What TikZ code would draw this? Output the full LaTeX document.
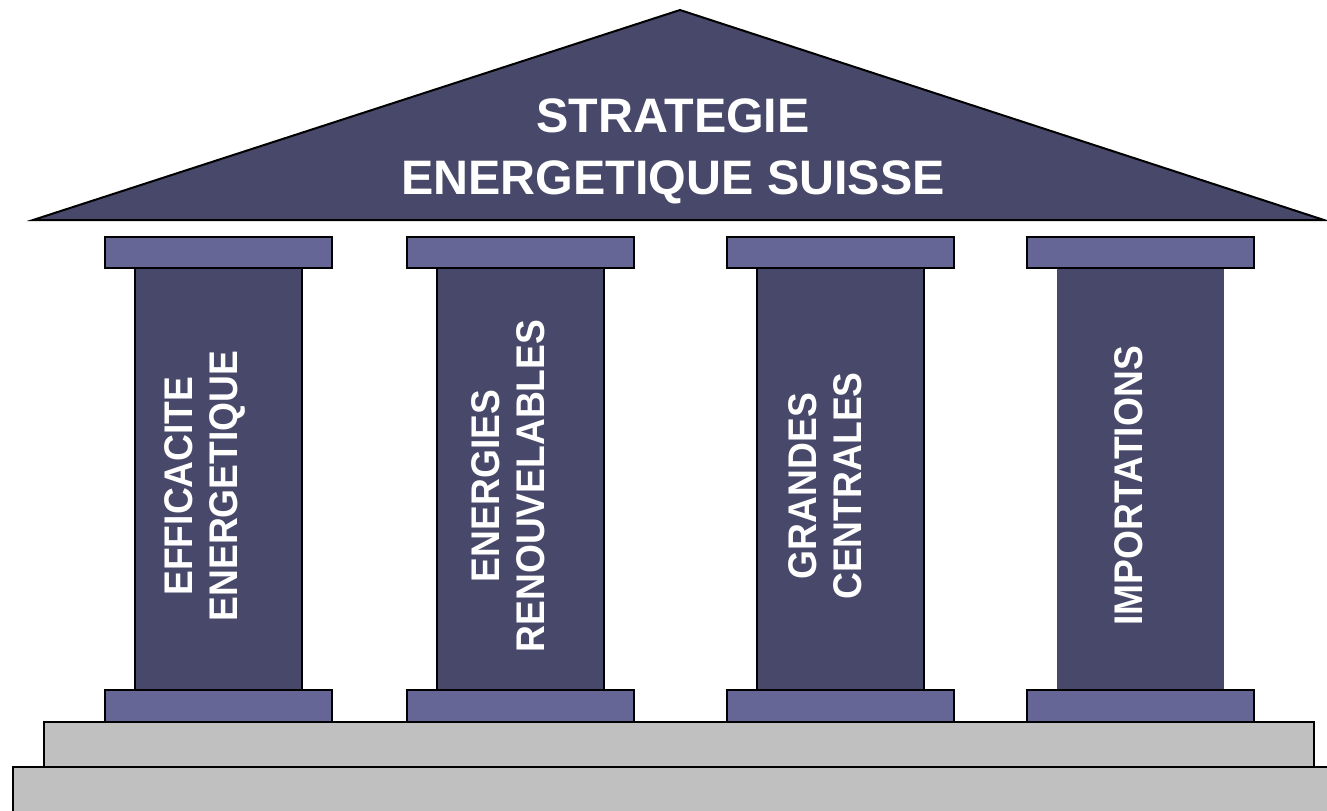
\documentclass[tikz,border=0pt]{standalone}
\usepackage{fontspec}
\setmainfont{Liberation Sans}
\newfontfamily\pilierfont[FakeStretch=0.93]{Liberation Sans}
\usetikzlibrary{positioning}

\definecolor{toit}{RGB}{72,72,106}
\definecolor{chapiteau}{RGB}{102,102,150}
\definecolor{marche}{RGB}{192,192,192}

\tikzset{
  bloc/.style={draw=black, line width=1pt},
  titre/.style={text=white, font=\bfseries\fontsize{24.2}{31}\selectfont, align=center, inner sep=0pt},
  pilier/.style={text=white, font=\pilierfont\bfseries\fontsize{20}{22.5}\selectfont, align=center, rotate=90, inner sep=0pt}
}

\begin{document}
\begin{tikzpicture}[x=0.5pt, y=-0.5pt]
        \useasboundingbox (0,0) rectangle (1327,810);

        % marches
        \draw[bloc, fill=marche] (13,767) rectangle (1345,830);
        \draw[bloc, fill=marche] (44,722) rectangle (1314,767);

        % colonnes
        \foreach \x/\dx/\nom/\txt [count=\i] in {105/100/efficacite/{EFFICACITE\\ENERGETIQUE}, 407/101/renouvelables/{ENERGIES\\RENOUVELABLES}, 727/98/centrales/{GRANDES\\CENTRALES}, 1027/102/importations/{IMPORTATIONS}} {
            \ifnum\i=4
                \fill[toit] (\x+30,268) rectangle (\x+197,692);
            \else
                \draw[bloc, fill=toit] (\x+30,268) rectangle (\x+197,690);
            \fi
            \draw[bloc, fill=chapiteau] (\x,237) rectangle (\x+227,268);
            \draw[bloc, fill=chapiteau] (\x,690) rectangle (\x+227,722);
            \node[pilier] (\nom) at (\x+\dx,486) {\txt};
        }

        % toit
        \draw[bloc, fill=toit] (33,220) -- (680,10) -- (1324,220) -- cycle;
        \node[titre] (strategie) at (673,151) {STRATEGIE\\ENERGETIQUE SUISSE};
    \end{tikzpicture}
\end{document}
